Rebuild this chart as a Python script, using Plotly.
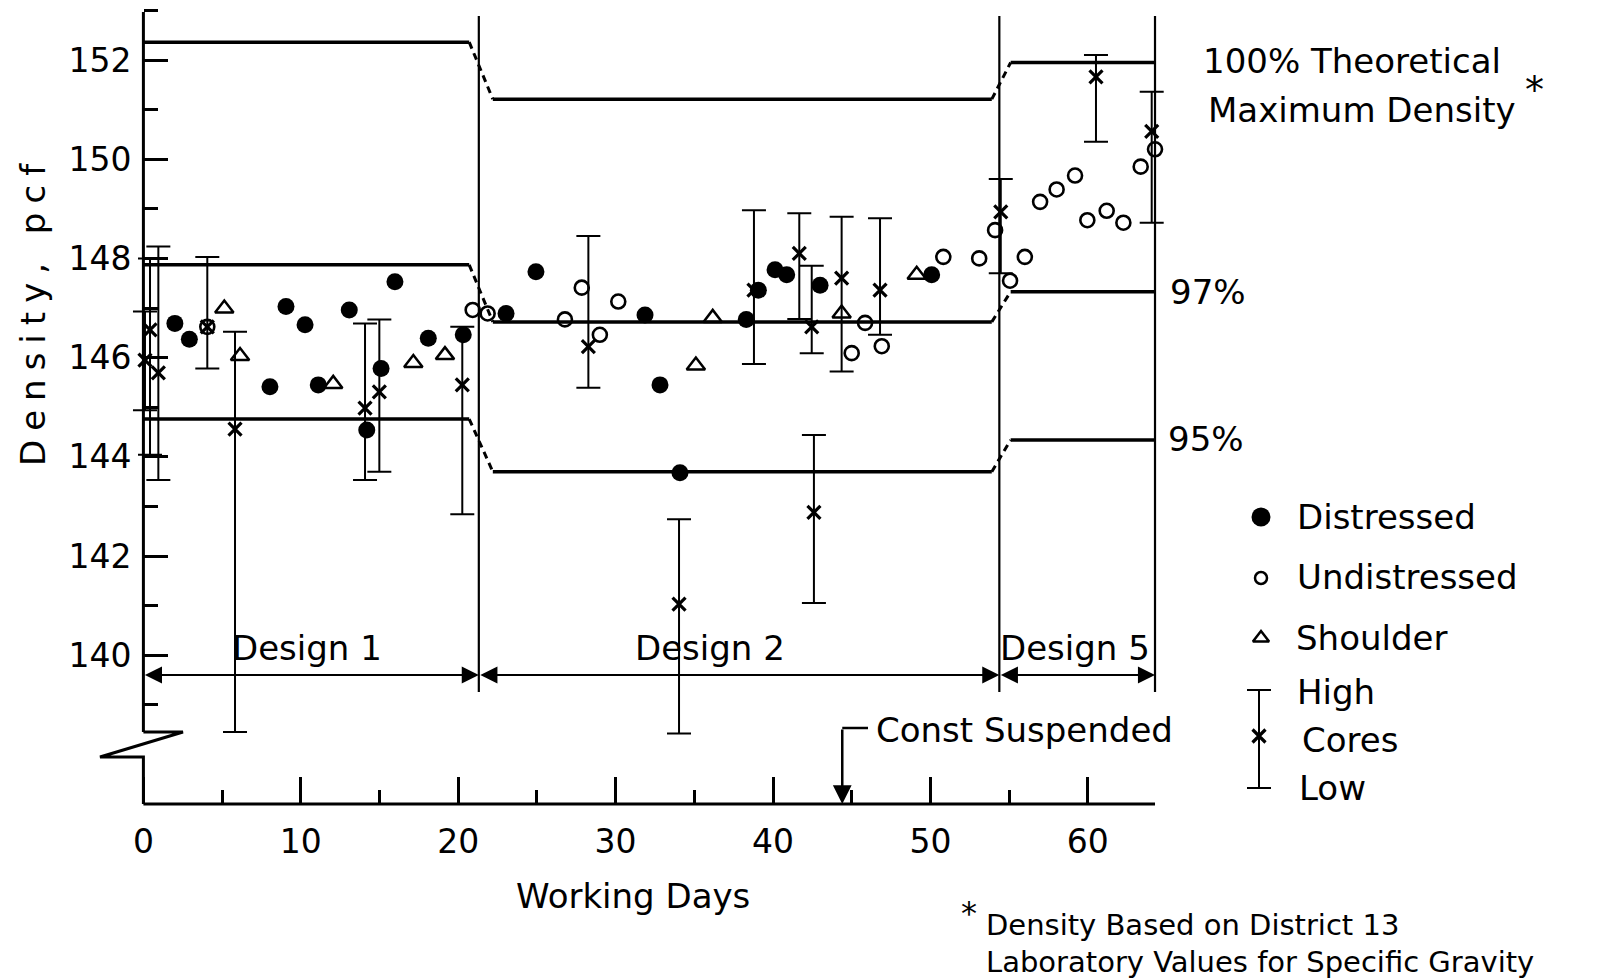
import plotly.graph_objects as go

# ---- values (working day, density pcf) ----
distressed_day = [2.0, 2.92, 8.04, 9.06, 10.27, 11.11, 13.08, 14.19, 15.1, 15.98, 18.1, 20.32,
                  23.04, 24.94, 31.87, 32.82, 34.09, 38.3, 39.07, 40.13, 40.87, 42.99, 50.08]
distressed_pcf = [146.69, 146.37, 145.41, 147.03, 146.66, 145.45, 146.96, 144.54, 145.78, 147.53, 146.39, 146.46,
                  146.89, 147.73, 146.86, 145.45, 143.68, 146.77, 147.36, 147.77, 147.67, 147.46, 147.67]

undistressed_day = [4.06, 20.92, 21.87, 26.78, 27.85, 29.0, 30.17, 45.0, 45.85, 46.91, 50.82, 53.1,
                    54.11, 55.06, 56.0, 56.97, 58.02, 59.19, 59.97, 61.2, 62.26, 63.36, 64.27]
undistressed_pcf = [146.62, 146.96, 146.89, 146.77, 147.41, 146.46, 147.13, 146.09, 146.7, 146.23, 148.03, 148.0,
                    148.57, 147.55, 148.03, 149.14, 149.39, 149.67, 148.77, 148.96, 148.72, 149.85, 150.2]

shoulder_day = [5.14, 6.14, 12.06, 17.15, 19.16, 35.1, 36.17, 44.36, 49.13]
shoulder_pcf = [146.99, 146.03, 145.47, 145.89, 146.05, 145.84, 146.8, 146.89, 147.67]

core_day = [0.1, 0.42, 0.95, 4.06, 5.82, 14.08, 14.99, 20.26, 28.27, 34.03, 38.79, 41.67,
            42.46, 42.6, 44.36, 46.8, 54.47, 60.52, 64.06]
core_pcf = [145.95, 146.56, 145.69, 146.62, 144.56, 144.98, 145.31, 145.45, 146.22, 141.03, 147.36, 148.1,
            146.62, 142.88, 147.6, 147.36, 148.94, 151.66, 150.56]
core_high = [146.93, 148.0, 148.24, 148.03, 146.52, 146.69, 146.77, 146.62, 148.45, 142.74, 148.97, 148.91,
             147.85, 144.44, 148.84, 148.81, 149.6, 152.1, 151.36]
core_low = [144.94, 144.04, 143.53, 145.78, 138.45, 143.53, 143.7, 142.84, 145.39, 138.42, 145.87, 146.78,
            146.09, 141.05, 145.72, 146.46, 147.7, 150.35, 148.72]

# theoretical maximum density levels per design section
designs = ["Design 1", "Design 2", "Design 5"]
design_start = [0.0, 22.2, 55.1]
design_end = [20.7, 53.9, 64.27]
level_100 = [152.36, 151.21, 151.95]
level_97 = [147.87, 146.72, 147.33]
level_95 = [144.76, 143.70, 144.34]
section_bounds = [0.0, 21.31, 54.38, 64.27]
const_suspended_day = 44.4

x_ticks = [0, 10, 20, 30, 40, 50, 60]
x_minor = [5, 15, 25, 35, 45, 55]
y_ticks = [140, 142, 144, 146, 148, 150, 152]
y_minor = [139, 141, 143, 145, 147, 149, 151, 153]

# ---- page geometry: the whole page is the plotting area ----
W, H = 1616, 980
X0, KX = 143.4, 15.74     # pixel of day 0, pixels per day
Y152, KY = 60.0, 49.6     # pixel of 152 pcf, pixels per pcf


def day(px):
    return (px - X0) / KX


def pcf(py):
    return 152 - (py - Y152) / KY


x_range = [day(0), day(W)]
y_range = [pcf(H), pcf(0)]
FONT = "DejaVu Sans"

fig = go.Figure()

# reference density lines, solid per design, dashed between designs
for levels in (level_100, level_97, level_95):
    xs, ys, dx, dy = [], [], [], []
    for i in range(len(designs)):
        xs += [design_start[i], design_end[i], None]
        ys += [levels[i], levels[i], None]
        if i + 1 < len(designs):
            dx += [design_end[i], design_start[i + 1], None]
            dy += [levels[i], levels[i + 1], None]
    fig.add_trace(go.Scatter(x=xs, y=ys, mode="lines", line=dict(color="black", width=3.5)))
    fig.add_trace(go.Scatter(x=dx, y=dy, mode="lines", line=dict(color="black", width=3, dash="7px,5px")))

# cores with high / low range
core_marker = dict(symbol="x-thin-open", size=13, color="black", line=dict(width=3.2, color="black"))
fig.add_trace(go.Scatter(
    x=core_day, y=core_pcf, mode="markers", name="Cores", marker=core_marker,
    error_y=dict(type="data", symmetric=False,
                 array=[h - c for h, c in zip(core_high, core_pcf)],
                 arrayminus=[c - l for c, l in zip(core_pcf, core_low)],
                 color="black", thickness=2, width=12),
))
fig.add_trace(go.Scatter(x=distressed_day, y=distressed_pcf, mode="markers", name="Distressed",
                         marker=dict(symbol="circle", size=17, color="black")))
fig.add_trace(go.Scatter(x=undistressed_day, y=undistressed_pcf, mode="markers", name="Undistressed",
                         marker=dict(symbol="circle-open", size=14, color="black", line=dict(width=2.6))))
fig.add_trace(go.Scatter(x=shoulder_day, y=shoulder_pcf, mode="markers", name="Shoulder",
                         marker=dict(symbol="triangle-up-open", size=16, color="black", line=dict(width=2.5))))

# key on the right
kx = day(1261)
fig.add_trace(go.Scatter(x=[kx], y=[pcf(517)], mode="markers", marker=dict(symbol="circle", size=19, color="black")))
fig.add_trace(go.Scatter(x=[kx], y=[pcf(578)], mode="markers",
                         marker=dict(symbol="circle-open", size=12, color="black", line=dict(width=2.5))))
fig.add_trace(go.Scatter(x=[kx], y=[pcf(638)], mode="markers",
                         marker=dict(symbol="triangle-up-open", size=14, color="black", line=dict(width=2.5))))
fig.add_trace(go.Scatter(
    x=[day(1259)], y=[pcf(736)], mode="markers", marker=core_marker,
    error_y=dict(type="data", symmetric=False, array=[pcf(690) - pcf(736)], arrayminus=[pcf(736) - pcf(788)],
                 color="black", thickness=2, width=12),
))
fig.update_traces(showlegend=False, hoverinfo="skip")

shapes = []
line = dict(color="black", width=3)
# x axis line and broken y axis
shapes.append(dict(type="line", xref="x", yref="y", x0=0, x1=section_bounds[-1], y0=137, y1=137, line=line))
brk_top, brk_bot = pcf(732), pcf(757)
shapes.append(dict(type="line", xref="x", yref="y", x0=0, x1=0, y0=pcf(12), y1=brk_top, line=line))
shapes.append(dict(type="path", xref="x", yref="y",
                   path=f"M0,{brk_top} L{day(183)},{brk_top} L{day(100)},{brk_bot} L0,{brk_bot} L0,137",
                   line=line))
# section boundaries
for b in section_bounds[1:]:
    shapes.append(dict(type="line", xref="x", yref="y", x0=b, x1=b, y0=pcf(692), y1=pcf(16),
                       line=dict(color="black", width=2.2)))
# const suspended leader
cs_top = pcf(728)
shapes.append(dict(type="line", xref="x", yref="y", x0=const_suspended_day, x1=day(868), y0=cs_top, y1=cs_top,
                   line=dict(color="black", width=2.5)))

annotations = []


def label(text, px, py, size=34, xanchor="center", angle=0):
    annotations.append(dict(text=text, x=px / W, y=1 - py / H, xref="paper", yref="paper",
                            xanchor=xanchor, yanchor="middle", showarrow=False, textangle=angle,
                            font=dict(family=FONT, size=size, color="black")))


label("100% Theoretical", 1352, 61)
label("Maximum Density", 1362, 110)
label("*", 1534, 90, size=38)
label("97%", 1168, 292, xanchor="left")
label("95%", 1166, 439, xanchor="left")
for name, px in zip(designs, [307, 710, 1075]):
    label(name, px, 648)
label("Const Suspended", 1024, 730)
label("Working Days", 633, 896)
label("Density, pcf", 33, 310, angle=-90)
label("Distressed", 1295, 517, xanchor="left")
label("Undistressed", 1295, 577, xanchor="left")
label("Shoulder", 1294, 638, xanchor="left")
label("High", 1295, 692, xanchor="left")
label("Cores", 1300, 740, xanchor="left")
label("Low", 1297, 788, xanchor="left")
label("*", 969, 913, size=32)
label("Density Based on District 13", 984, 925, size=29, xanchor="left")
label("Laboratory Values for Specific Gravity", 984, 962, size=29, xanchor="left")

# design span arrows
span_y = pcf(675)
for i in range(len(designs)):
    annotations.append(dict(x=section_bounds[i + 1], y=span_y, ax=section_bounds[i], ay=span_y,
                            xref="x", yref="y", axref="x", ayref="y", text="", showarrow=True,
                            arrowside="end+start", arrowhead=2, startarrowhead=2,
                            arrowsize=1.9, startarrowsize=1.9, arrowwidth=1.8, arrowcolor="black",
                            standoff=0, startstandoff=0))
annotations.append(dict(x=const_suspended_day, y=137, ax=const_suspended_day, ay=cs_top,
                        xref="x", yref="y", axref="x", ayref="y", text="", showarrow=True,
                        arrowhead=2, arrowsize=1.5, arrowwidth=2.5, arrowcolor="black", standoff=0))

tick_font = dict(family=FONT, size=33, color="black")
fig.update_layout(
    width=W, height=H, autosize=False,
    margin=dict(l=0, r=0, t=0, b=0),
    paper_bgcolor="white", plot_bgcolor="white",
    template="none", showlegend=False,
    font=dict(family=FONT, color="black"),
    shapes=shapes, annotations=annotations,
    xaxis=dict(range=x_range, anchor="free", position=(137 - y_range[0]) / (y_range[1] - y_range[0]),
               showgrid=False, zeroline=False, showline=False, automargin=False,
               tickmode="array", tickvals=x_ticks, ticks="inside", ticklen=27, tickwidth=2.5,
               tickcolor="black", tickfont=tick_font, ticklabelstandoff=15,
               minor=dict(tickmode="array", tickvals=x_minor, ticks="inside", ticklen=14,
                          tickwidth=2.5, tickcolor="black", showgrid=False)),
    yaxis=dict(range=y_range, anchor="free", position=(0 - x_range[0]) / (x_range[1] - x_range[0]),
               showgrid=False, zeroline=False, showline=False, automargin=False,
               tickmode="array", tickvals=y_ticks, ticks="inside", ticklen=24, tickwidth=2.5,
               tickcolor="black", tickfont=tick_font, ticklabelstandoff=12,
               minor=dict(tickmode="array", tickvals=y_minor, ticks="inside", ticklen=14,
                          tickwidth=2.5, tickcolor="black", showgrid=False)),
)

# page without the default body margin; the y title is letter-spaced like the original lettering
page_js = """
document.body.style.margin = '0';
document.body.style.overflow = 'hidden';
setTimeout(function () {
  document.querySelectorAll('text.annotation-text').forEach(function (t) {
    if (t.textContent === 'Density, pcf') { t.style.letterSpacing = '9px'; }
  });
}, 0);
"""
fig.write_html("out.html", post_script=page_js, config={"displayModeBar": False})
